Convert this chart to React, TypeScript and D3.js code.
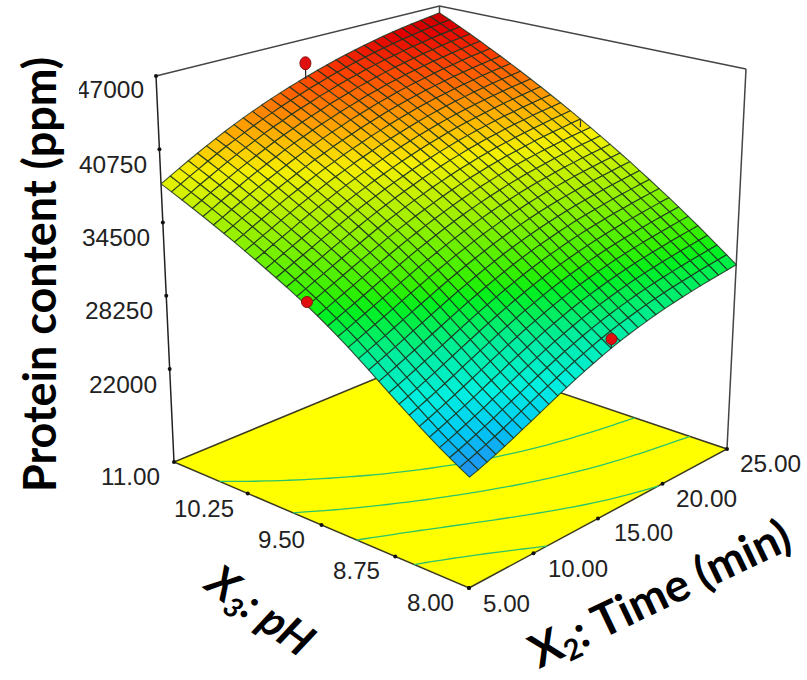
import React from "react";
import * as d3 from "d3";

const proteinTicks = [47000, 40750, 34500, 28250, 22000];
const proteinFloor = 14070;
const timeTicks = [5, 10, 15, 20, 25];
const phTicks = [8, 8.75, 9.5, 10.25, 11];
const contourLevels = [25400, 28950, 32450, 35850];

// protein content, rows go from pH 8 to pH 11, columns from 5 to 25 min
const proteinGrid = [
  [22600,22840,23105,23390,23690,24005,24340,24680,25025,25370,25715,26055,26390,26715,27030,27330,27615,27880,28120,28345,28560,28760,28945,29115,29270,29415,29550,29680,29805,29925,30040],
  [23040,23291,23567,23862,24171,24495,24837,25183,25534,25886,26236,26580,26921,27250,27569,27875,28164,28434,28680,28911,29132,29337,29529,29704,29865,30017,30157,30293,30423,30549,30668],
  [23510,23771,24057,24360,24677,25008,25356,25707,26063,26420,26774,27121,27466,27798,28120,28430,28722,28996,29247,29482,29708,29917,30114,30293,30459,30616,30760,30901,31035,31165,31289],
  [24000,24270,24565,24876,25200,25537,25890,26245,26606,26967,27324,27673,28021,28356,28680,28993,29287,29564,29820,30058,30288,30500,30701,30884,31054,31215,31362,31507,31645,31778,31905],
  [24525,24803,25106,25422,25752,26094,26451,26809,27172,27536,27895,28245,28595,28930,29255,29570,29865,30144,30402,30642,30875,31089,31293,31477,31650,31814,31963,32111,32250,32385,32515],
  [25075,25360,25670,25990,26325,26671,27031,27391,27755,28121,28481,28831,29182,29516,29841,30157,30452,30732,30991,31232,31467,31682,31888,32072,32247,32413,32563,32713,32852,32988,33119],
  [25650,25941,26257,26580,26919,27268,27630,27991,28355,28722,29082,29431,29782,30114,30438,30754,31048,31328,31587,31828,32064,32279,32486,32669,32845,33012,33162,33313,33451,33587,33718],
  [26240,26536,26857,27183,27525,27877,28240,28601,28965,29332,29691,30038,30388,30718,31040,31356,31648,31927,32186,32426,32662,32876,33083,33265,33441,33609,33758,33909,34046,34181,34311],
  [26840,27141,27466,27795,28139,28493,28857,29217,29581,29947,30305,30650,30998,31326,31645,31960,32250,32527,32786,33024,33260,33473,33679,33860,34035,34203,34351,34501,34637,34770,34897],
  [27450,27755,28084,28415,28761,29116,29480,29839,30202,30567,30923,31265,31611,31936,32252,32565,32852,33127,33385,33621,33856,34067,34272,34451,34625,34792,34938,35087,35221,35352,35479],
  [28070,28379,28711,29044,29391,29747,30111,30468,30830,31193,31547,31886,32229,32551,32863,33174,33458,33730,33987,34220,34454,34663,34866,35043,35215,35381,35525,35672,35804,35932,36055],
  [28690,29002,29338,29672,30020,30377,30740,31095,31455,31817,32168,32503,32844,33162,33470,33778,34059,34328,34583,34814,35046,35252,35454,35628,35798,35963,36104,36249,36378,36504,36625],
  [29300,29615,29955,30290,30640,30997,31359,31713,32071,32432,32780,33111,33450,33764,34069,34374,34651,34918,35171,35400,35630,35833,36034,36205,36374,36537,36675,36819,36945,37069,37188],
  [29890,30209,30553,30890,31242,31600,31962,32315,32672,33032,33378,33706,34043,34354,34656,34959,35233,35498,35750,35977,36206,36407,36607,36776,36944,37106,37242,37385,37509,37631,37746],
  [30455,30779,31127,31467,31821,32181,32544,32896,33253,33612,33957,34283,34618,34927,35226,35528,35800,36063,36315,36540,36769,36969,37168,37336,37503,37665,37800,37942,38065,38185,38299],
  [31000,31329,31682,32025,32382,32744,33108,33460,33817,34176,34520,34844,35178,35485,35782,36083,36353,36615,36867,37091,37320,37519,37718,37885,38052,38214,38348,38490,38612,38731,38845],
  [31520,31855,32213,32560,32921,33286,33651,34004,34362,34721,35065,35388,35721,36027,36323,36624,36892,37154,37407,37630,37860,38059,38258,38425,38593,38756,38889,39032,39154,39272,39386],
  [32015,32356,32721,33072,33437,33806,34173,34527,34886,35247,35591,35913,36247,36552,36847,37149,37416,37678,37932,38156,38387,38586,38787,38954,39123,39287,39421,39565,39687,39806,39921],
  [32500,32848,33219,33575,33944,34317,34686,35042,35402,35765,36109,36431,36765,37070,37364,37667,37933,38196,38451,38676,38908,39108,39310,39478,39648,39814,39948,40093,40216,40336,40450],
  [32975,33330,33707,34068,34441,34818,35190,35547,35909,36273,36618,36940,37274,37579,37872,38176,38442,38705,38962,39187,39421,39622,39825,39994,40165,40333,40468,40614,40738,40858,40974],
  [33440,33802,34186,34551,34929,35310,35685,36044,36407,36773,37119,37441,37776,38080,38372,38678,38944,39208,39466,39692,39928,40130,40335,40504,40677,40847,40983,41131,41255,41376,41491],
  [33900,34269,34659,35029,35412,35797,36174,36535,36900,37267,37614,37936,38271,38575,38867,39174,39439,39704,39964,40190,40428,40631,40837,41007,41182,41353,41490,41640,41765,41886,42003],
  [34355,34731,35127,35502,35890,36279,36658,37021,37388,37756,38104,38426,38761,39065,39357,39665,39929,40195,40457,40683,40923,41127,41334,41505,41682,41854,41992,42144,42270,42391,42509],
  [34805,35188,35590,35970,36363,36756,37137,37502,37871,38240,38589,38911,39246,39550,39842,40151,40414,40681,40945,41171,41413,41618,41826,41998,42177,42350,42489,42643,42770,42891,43009],
  [35250,35640,36048,36433,36830,37227,37611,37977,38348,38718,39068,39390,39725,40029,40320,40630,40893,41160,41426,41652,41896,42102,42311,42484,42664,42839,42979,43134,43262,43383,43504],
  [35690,36087,36501,36891,37293,37694,38080,38448,38821,39192,39543,39865,40200,40504,40795,41106,41368,41636,41904,42130,42376,42583,42793,42967,43149,43325,43466,43623,43752,43873,43993],
  [36125,36529,36949,37344,37750,38155,38543,38913,39287,39660,40011,40333,40668,40972,41262,41574,41835,42104,42373,42600,42847,43055,43266,43441,43624,43802,43943,44101,44231,44353,44475],
  [36550,36961,37388,37787,38198,38607,38998,39370,39745,40120,40472,40794,41130,41433,41723,42036,42297,42567,42837,43065,43314,43523,43736,43911,44096,44276,44418,44578,44708,44831,44953],
  [36970,37388,37821,38225,38641,39054,39447,39821,40198,40574,40927,41249,41585,41888,42178,42492,42752,43023,43295,43523,43774,43984,44198,44374,44561,44742,44885,45047,45178,45301,45425],
  [37385,37810,38249,38658,39079,39496,39891,40267,40646,41023,41377,41699,42035,42338,42628,42943,43202,43474,43748,43976,44229,44440,44655,44832,45021,45203,45347,45511,45643,45766,45890],
  [37800,38235,38665,39090,39510,39925,40330,40720,41095,41460,41810,42145,42470,42785,43085,43370,43650,43920,44180,44430,44665,44890,45100,45295,45480,45655,45815,45960,46100,46230,46350],
];

// time, pH, protein, foot of the stem
const designPoints = [
  [15.5, 11, 44833, 43410],
  [5, 9.6, 31835, 31835],
  [15.67, 8, 28375, 27640],
];
// only the stem of this run shows, the point is under the surface
const hiddenStem = [25, 9.6, 39290, 38660];

const colorStops = [23000, 24500, 26300, 28500, 31000, 32000, 35000, 38500, 40500, 43500, 45500, 46350];
const colorValues = ["#1e96f0", "#00c8f5", "#00f0e0", "#00eea0", "#00f020", "#30f000", "#90f000", "#f5f000", "#ffb000", "#ff4600", "#e00000", "#c80000"];

const uScale = d3.scaleLinear().domain([5, 25]).range([0, 1]);
const vScale = d3.scaleLinear().domain([8, 11]).range([0, 1]);
const wScale = d3.scaleLinear().domain([proteinFloor, 47000]).range([0, 1]);
const color = d3.scaleLinear<string>().domain(colorStops).range(colorValues).clamp(true);

// box corners on the page
const floorFront = [469, 588];
const floorRight = [727, 449];
const floorLeft = [174, 462];
const floorBack = [440, 352];
const topFront = [471, 160];
const topRight = [746, 69];
const topLeft = [156, 76];
const topBack = [439.5, 6];

function bilinear(a: number[], b: number[], c: number[], d: number[], u: number, v: number) {
  const low = d3.interpolateArray(a, b)(u) as number[];
  const high = d3.interpolateArray(c, d)(u) as number[];
  return d3.interpolateArray(low, high)(v) as number[];
}

function project(time: number, ph: number, protein: number) {
  const u = uScale(time);
  const v = vScale(ph);
  const f = bilinear(floorFront, floorRight, floorLeft, floorBack, u, v);
  const t = bilinear(topFront, topRight, topLeft, topBack, u, v);
  return d3.interpolateArray(f, t)(wScale(protein)) as number[];
}

const rows = proteinGrid.length;
const cols = proteinGrid[0].length;
const timeAt = d3.scaleLinear().domain([0, cols - 1]).range([5, 25]);
const phAt = d3.scaleLinear().domain([0, rows - 1]).range([8, 11]);
const closed = d3.line().curve(d3.curveLinearClosed);

function surfaceCells() {
  const cells = [];
  for (let j = rows - 2; j >= 0; j--) {
    for (let i = cols - 2; i >= 0; i--) {
      const corners = [
        [i, j],
        [i + 1, j],
        [i + 1, j + 1],
        [i, j + 1],
      ];
      const pts = corners.map(([a, b]) => project(timeAt(a), phAt(b), proteinGrid[b][a]));
      const mean = d3.mean(corners, ([a, b]) => proteinGrid[b][a]);
      cells.push(
        <path
          key={i + "-" + j}
          d={closed(pts as [number, number][]) as string}
          fill={color(mean as number)}
          stroke="#1c3320"
          strokeWidth={1.1}
          strokeOpacity={0.85}
          strokeLinejoin="round"
        />
      );
    }
  }
  return cells;
}

function floorContours() {
  const gen = d3.contours().size([cols, rows]).thresholds(contourLevels);
  const inside = (p: number[]) => p[0] >= 0.5 && p[0] <= cols - 0.5 && p[1] >= 0.5 && p[1] <= rows - 0.5;
  const line = d3
    .line<number[]>()
    .defined(inside)
    .x((p) => project(timeAt(p[0] - 0.5), phAt(p[1] - 0.5), proteinFloor)[0])
    .y((p) => project(timeAt(p[0] - 0.5), phAt(p[1] - 0.5), proteinFloor)[1]);
  return gen(proteinGrid.flat()).flatMap((c, k) =>
    c.coordinates.flatMap((poly, m) =>
      poly.map((ring, n) => (
        <path key={[k, m, n].join("-")} d={line(ring) as string} fill="none" stroke="#2cc46a" strokeWidth={1.3} />
      ))
    )
  );
}

function Label({ x, y, w, children }: any) {
  return (
    <text x={x} y={y} textLength={w} lengthAdjust="spacingAndGlyphs" fontFamily="Liberation Sans" fontSize={23.5} fill="#222">
      {children}
    </text>
  );
}

export default function App() {
  const floorPath = closed([floorFront, floorRight, floorBack, floorLeft] as [number, number][]) as string;
  const frame = d3.line()([topLeft, topBack, topRight] as [number, number][]) as string;
  const leftPost = d3.line()([topLeft, floorLeft] as [number, number][]) as string;
  const rightPost = d3.line()([topRight, floorRight] as [number, number][]) as string;
  const backPost = d3.line()([topBack, floorBack] as [number, number][]) as string;

  const proteinLabelX = [76, 79, 82, 85, 89];
  const proteinLabelY = [98, 173, 246, 319, 393];
  const stemTop = project(hiddenStem[0], hiddenStem[1], hiddenStem[2]);
  const stemFoot = project(hiddenStem[0], hiddenStem[1], hiddenStem[3]);

  return (
    <svg width={807} height={680} style={{ position: "absolute", left: 0, top: 0 }}>
      <defs>
        <clipPath id="firstLabel">
          <rect x={79} y={70} width={80} height={40} />
        </clipPath>
      </defs>
      <path d={frame} fill="none" stroke="#444" strokeWidth={1.5} />
      <path d={backPost} stroke="#444" strokeWidth={1.5} />
      <path d={leftPost} stroke="#222" strokeWidth={1.5} />
      <path d={rightPost} stroke="#444" strokeWidth={1.5} />
      <path d={floorPath} fill="#ffff00" stroke="#3a3a20" strokeWidth={1.5} />
      {floorContours()}
      {proteinTicks.map((t) => {
        const [x, y] = project(5, 11, t);
        return <circle key={t} cx={x} cy={y} r={2} fill="#111" />;
      })}
      {timeTicks.map((t) => {
        const [x, y] = project(t, 8, proteinFloor);
        return <circle key={t} cx={x} cy={y} r={2} fill="#111" />;
      })}
      {phTicks.map((t) => {
        const [x, y] = project(5, t, proteinFloor);
        return <circle key={t} cx={x} cy={y} r={2} fill="#111" />;
      })}
      {surfaceCells()}
      <line x1={stemTop[0]} y1={stemTop[1]} x2={stemFoot[0]} y2={stemFoot[1]} stroke="#333" strokeWidth={1.2} />
      {designPoints.map((d, k) => {
        const [x, y] = project(d[0], d[1], d[2]);
        const foot = project(d[0], d[1], d[3]);
        return (
          <g key={k}>
            <line x1={x} y1={y} x2={foot[0]} y2={foot[1]} stroke="#222" strokeWidth={1.2} />
            <ellipse cx={x} cy={y} rx={5.5} ry={k === 0 ? 6.5 : 5.5} fill="#e01010" stroke="#8a1010" />
          </g>
        );
      })}
      {proteinTicks.map((t, k) => (
        <g key={t} clipPath={k === 0 ? "url(#firstLabel)" : undefined}>
          <Label x={proteinLabelX[k]} y={proteinLabelY[k]} w={68}>
            {t}
          </Label>
        </g>
      ))}
      <Label x={101} y={485} w={59}>11.00</Label>
      <Label x={174} y={517} w={60}>10.25</Label>
      <Label x={258} y={548} w={47}>9.50</Label>
      <Label x={333} y={579} w={47}>8.75</Label>
      <Label x={407} y={611} w={47}>8.00</Label>
      <Label x={483} y={612} w={47}>5.00</Label>
      <Label x={548} y={577} w={60}>10.00</Label>
      <Label x={614} y={541} w={59}>15.00</Label>
      <Label x={676} y={507} w={61}>20.00</Label>
      <Label x={740} y={472} w={61}>25.00</Label>
      <text
        transform="translate(56,492) rotate(-90)"
        textLength={435}
        lengthAdjust="spacingAndGlyphs"
        fontFamily="Lato"
        fontWeight="bold"
        fontSize={45}
        fill="#000"
      >
        Protein content (ppm)
      </text>
      <text transform="translate(203,588) rotate(36)" fontFamily="Lato" fontWeight="bold" fontStyle="italic" fontSize={44} fill="#000">
        X<tspan fontSize={28} dy={8}>3</tspan>
        <tspan dy={-8}>: pH</tspan>
      </text>
      <text transform="translate(539,669) rotate(-25.5)" fontFamily="Lato" fontWeight="bold" fontSize={46} fill="#000">
        X<tspan fontSize={29} dy={7}>2</tspan>
        <tspan dy={-7}>: Time (min)</tspan>
      </text>
    </svg>
  );
}
